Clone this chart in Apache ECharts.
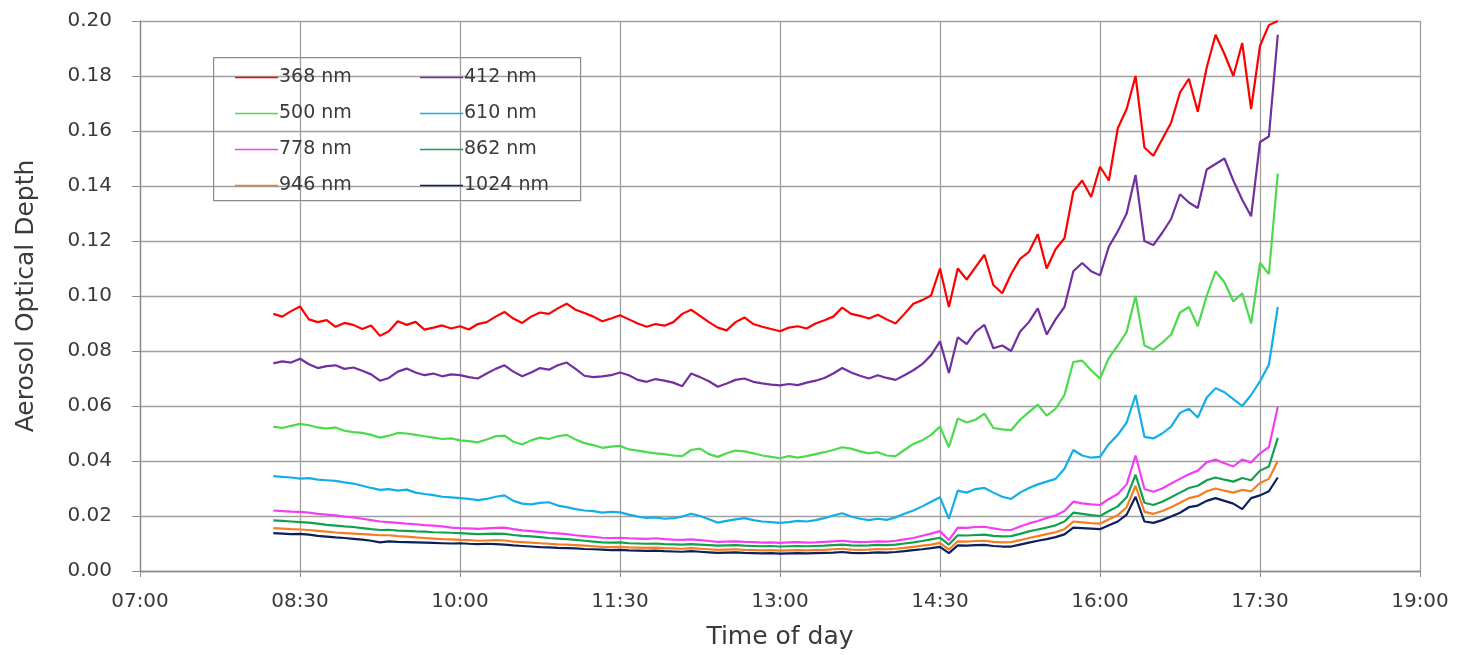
<!DOCTYPE html>
<html>
<head>
<meta charset="utf-8">
<script src="https://cdn.jsdelivr.net/npm/echarts@6/dist/echarts.min.js"></script>
<style>
html,body{margin:0;padding:0;background:#fff;}
#chart{width:1474px;height:655px;}
</style>
</head>
<body>
<div id="chart"></div>
<script>
// Sample times: minutes after 07:00, every 5 minutes from 08:15 to 17:40
var startMinute = 75, stepMinute = 5;
var xTickLabels = ['07:00','08:30','10:00','11:30','13:00','14:30','16:00','17:30','19:00'];
var seriesNames = ['368 nm','412 nm','500 nm','610 nm','778 nm','862 nm','946 nm','1024 nm'];

var aod368 = [0.0935,0.0925,0.0945,0.0962,0.0915,0.0905,0.0912,0.0888,0.0902,0.0895,
0.0880,0.0893,0.0855,0.0872,0.0908,0.0895,0.0906,0.0878,0.0885,0.0893,
0.0882,0.0890,0.0878,0.0898,0.0905,0.0925,0.0942,0.0918,0.0902,0.0925,
0.0940,0.0935,0.0955,0.0972,0.0950,0.0938,0.0925,0.0908,0.0918,0.0930,
0.0915,0.0900,0.0888,0.0898,0.0892,0.0905,0.0935,0.0950,0.0928,0.0905,
0.0885,0.0875,0.0905,0.0922,0.0898,0.0888,0.0880,0.0872,0.0885,0.0890,
0.0882,0.0900,0.0912,0.0925,0.0958,0.0935,0.0928,0.0918,0.0932,0.0915,
0.0900,0.0935,0.0972,0.0985,0.1002,0.1100,0.0960,0.1100,0.1060,0.1105,
0.1150,0.1040,0.1010,0.1080,0.1135,0.1160,0.1225,0.1100,0.1170,0.1210,
0.1380,0.1420,0.1360,0.1470,0.1420,0.1610,0.1680,0.1800,0.1540,0.1510,
0.1570,0.1630,0.1740,0.1790,0.1670,0.1830,0.1950,0.1880,0.1800,0.1920,
0.1680,0.1910,0.1985,0.2000];

var aod412 = [0.0755,0.0762,0.0758,0.0772,0.0752,0.0738,0.0745,0.0748,0.0735,0.0740,
0.0728,0.0715,0.0692,0.0702,0.0725,0.0736,0.0722,0.0712,0.0718,0.0708,
0.0715,0.0712,0.0705,0.0700,0.0718,0.0735,0.0748,0.0725,0.0708,0.0722,
0.0738,0.0732,0.0748,0.0758,0.0735,0.0710,0.0705,0.0708,0.0712,0.0722,
0.0712,0.0695,0.0688,0.0698,0.0692,0.0685,0.0672,0.0718,0.0705,0.0690,
0.0670,0.0682,0.0695,0.0700,0.0688,0.0682,0.0678,0.0675,0.0680,0.0676,
0.0685,0.0692,0.0702,0.0718,0.0738,0.0722,0.0710,0.0700,0.0712,0.0702,
0.0695,0.0712,0.0730,0.0752,0.0785,0.0835,0.0720,0.0850,0.0825,0.0870,
0.0895,0.0810,0.0820,0.0800,0.0870,0.0905,0.0955,0.0860,0.0915,0.0960,
0.1090,0.1120,0.1090,0.1075,0.1180,0.1235,0.1300,0.1440,0.1200,0.1185,
0.1230,0.1280,0.1370,0.1340,0.1320,0.1460,0.1480,0.1500,0.1420,0.1350,
0.1290,0.1560,0.1580,0.1950];

var aod500 = [0.0525,0.0520,0.0528,0.0535,0.0530,0.0522,0.0518,0.0522,0.0510,0.0505,
0.0502,0.0495,0.0485,0.0492,0.0502,0.0500,0.0495,0.0490,0.0485,0.0480,
0.0482,0.0475,0.0472,0.0468,0.0478,0.0490,0.0492,0.0470,0.0460,0.0475,
0.0485,0.0480,0.0490,0.0495,0.0478,0.0465,0.0458,0.0448,0.0452,0.0455,
0.0442,0.0438,0.0432,0.0428,0.0425,0.0420,0.0418,0.0440,0.0445,0.0425,
0.0415,0.0428,0.0438,0.0435,0.0428,0.0420,0.0415,0.0410,0.0418,0.0412,
0.0418,0.0425,0.0432,0.0440,0.0450,0.0445,0.0435,0.0428,0.0432,0.0420,
0.0418,0.0440,0.0462,0.0475,0.0495,0.0525,0.0450,0.0555,0.0540,0.0550,
0.0572,0.0520,0.0515,0.0512,0.0550,0.0578,0.0605,0.0565,0.0590,0.0640,
0.0760,0.0765,0.0730,0.0700,0.0775,0.0820,0.0870,0.1000,0.0820,0.0805,
0.0830,0.0860,0.0940,0.0960,0.0890,0.1000,0.1090,0.1050,0.0980,0.1010,
0.0900,0.1120,0.1080,0.1445];

var aod610 = [0.0345,0.0342,0.0340,0.0336,0.0338,0.0332,0.0330,0.0328,0.0322,0.0318,
0.0310,0.0302,0.0295,0.0298,0.0292,0.0296,0.0285,0.0280,0.0276,0.0270,
0.0268,0.0265,0.0262,0.0258,0.0262,0.0270,0.0275,0.0255,0.0245,0.0242,
0.0248,0.0250,0.0238,0.0232,0.0225,0.0220,0.0218,0.0212,0.0215,0.0213,
0.0205,0.0198,0.0193,0.0195,0.0190,0.0192,0.0198,0.0208,0.0200,0.0188,
0.0176,0.0182,0.0188,0.0192,0.0185,0.0180,0.0178,0.0175,0.0178,0.0182,
0.0180,0.0185,0.0192,0.0202,0.0210,0.0198,0.0190,0.0185,0.0190,0.0186,
0.0195,0.0208,0.0220,0.0235,0.0252,0.0268,0.0190,0.0292,0.0285,0.0298,
0.0302,0.0285,0.0270,0.0262,0.0285,0.0302,0.0315,0.0325,0.0335,0.0372,
0.0440,0.0420,0.0412,0.0415,0.0462,0.0495,0.0540,0.0640,0.0488,0.0482,
0.0500,0.0525,0.0575,0.0590,0.0558,0.0630,0.0665,0.0650,0.0625,0.0600,
0.0640,0.0690,0.0750,0.0960];

var aod778 = [0.0220,0.0218,0.0216,0.0215,0.0212,0.0208,0.0205,0.0202,0.0198,0.0195,
0.0190,0.0185,0.0180,0.0178,0.0175,0.0172,0.0170,0.0167,0.0165,0.0162,
0.0158,0.0156,0.0155,0.0153,0.0155,0.0157,0.0158,0.0152,0.0148,0.0145,
0.0142,0.0139,0.0137,0.0134,0.0130,0.0127,0.0124,0.0121,0.0120,0.0121,
0.0119,0.0118,0.0117,0.0119,0.0116,0.0114,0.0113,0.0115,0.0112,0.0109,
0.0106,0.0107,0.0108,0.0106,0.0105,0.0103,0.0104,0.0102,0.0104,0.0105,
0.0103,0.0104,0.0106,0.0108,0.0110,0.0107,0.0105,0.0106,0.0108,0.0107,
0.0110,0.0115,0.0120,0.0128,0.0136,0.0145,0.0112,0.0158,0.0157,0.0160,
0.0161,0.0155,0.0150,0.0149,0.0162,0.0173,0.0182,0.0193,0.0202,0.0218,
0.0252,0.0246,0.0242,0.0240,0.0262,0.0280,0.0315,0.0420,0.0298,0.0288,
0.0300,0.0318,0.0335,0.0352,0.0365,0.0395,0.0405,0.0392,0.0380,0.0405,
0.0395,0.0428,0.0450,0.0596];

var aod862 = [0.0184,0.0182,0.0180,0.0178,0.0176,0.0172,0.0168,0.0165,0.0162,0.0160,
0.0156,0.0152,0.0149,0.0150,0.0147,0.0146,0.0144,0.0143,0.0141,0.0140,
0.0139,0.0138,0.0136,0.0134,0.0135,0.0136,0.0135,0.0131,0.0128,0.0126,
0.0123,0.0120,0.0118,0.0116,0.0113,0.0110,0.0107,0.0104,0.0103,0.0104,
0.0101,0.0100,0.0099,0.0100,0.0098,0.0097,0.0096,0.0098,0.0096,0.0094,
0.0092,0.0093,0.0094,0.0092,0.0091,0.0090,0.0091,0.0089,0.0090,0.0091,
0.0090,0.0091,0.0092,0.0094,0.0096,0.0093,0.0092,0.0093,0.0095,0.0094,
0.0096,0.0100,0.0104,0.0109,0.0115,0.0121,0.0096,0.0130,0.0129,0.0131,
0.0132,0.0128,0.0126,0.0127,0.0135,0.0144,0.0151,0.0158,0.0166,0.0180,
0.0212,0.0208,0.0203,0.0200,0.0218,0.0235,0.0268,0.0350,0.0248,0.0240,
0.0252,0.0268,0.0285,0.0302,0.0310,0.0330,0.0340,0.0332,0.0325,0.0338,
0.0330,0.0365,0.0380,0.0484];

var aod946 = [0.0156,0.0154,0.0152,0.0151,0.0149,0.0146,0.0143,0.0140,0.0138,0.0136,
0.0134,0.0132,0.0130,0.0130,0.0127,0.0125,0.0122,0.0120,0.0118,0.0116,
0.0115,0.0113,0.0112,0.0110,0.0111,0.0112,0.0111,0.0107,0.0105,0.0103,
0.0101,0.0099,0.0097,0.0096,0.0094,0.0092,0.0090,0.0088,0.0087,0.0088,
0.0086,0.0085,0.0084,0.0085,0.0083,0.0082,0.0081,0.0083,0.0081,0.0079,
0.0077,0.0078,0.0079,0.0077,0.0076,0.0075,0.0076,0.0074,0.0075,0.0076,
0.0075,0.0076,0.0077,0.0079,0.0081,0.0078,0.0077,0.0078,0.0080,0.0079,
0.0081,0.0084,0.0088,0.0092,0.0096,0.0102,0.0078,0.0108,0.0107,0.0109,
0.0110,0.0106,0.0104,0.0105,0.0112,0.0120,0.0127,0.0134,0.0141,0.0152,
0.0180,0.0177,0.0174,0.0172,0.0188,0.0203,0.0232,0.0310,0.0215,0.0208,
0.0218,0.0232,0.0248,0.0265,0.0272,0.0290,0.0300,0.0292,0.0285,0.0295,
0.0290,0.0320,0.0335,0.0400];

var aod1024 = [0.0138,0.0136,0.0134,0.0135,0.0132,0.0128,0.0125,0.0122,0.0120,0.0117,
0.0114,0.0110,0.0104,0.0108,0.0106,0.0105,0.0104,0.0103,0.0102,0.0101,
0.0100,0.0101,0.0099,0.0098,0.0099,0.0098,0.0096,0.0093,0.0091,0.0089,
0.0087,0.0086,0.0084,0.0083,0.0082,0.0080,0.0079,0.0078,0.0076,0.0077,
0.0075,0.0074,0.0073,0.0074,0.0072,0.0071,0.0070,0.0072,0.0070,0.0068,
0.0066,0.0067,0.0068,0.0066,0.0065,0.0064,0.0065,0.0063,0.0064,0.0065,
0.0064,0.0065,0.0066,0.0067,0.0069,0.0066,0.0065,0.0066,0.0068,0.0067,
0.0069,0.0072,0.0076,0.0079,0.0083,0.0088,0.0065,0.0093,0.0092,0.0094,
0.0095,0.0091,0.0089,0.0089,0.0096,0.0103,0.0110,0.0116,0.0123,0.0133,
0.0158,0.0156,0.0154,0.0152,0.0166,0.0180,0.0205,0.0270,0.0180,0.0175,
0.0185,0.0198,0.0212,0.0232,0.0238,0.0255,0.0265,0.0255,0.0245,0.0225,
0.0265,0.0275,0.0290,0.0340];

var seriesValues = [aod368, aod412, aod500, aod610, aod778, aod862, aod946, aod1024];
var seriesColors = ['#ff0000','#7030a0','#4cd94c','#12aee8','#f43ef4','#0fa050','#f47d20','#0a1f5c'];

var FONT = 'DejaVu Sans';
var TXT = '#3a3a3a';

function pairs(vals){
  var out = [];
  for (var i = 0; i < vals.length; i++) out.push([startMinute + i*stepMinute, vals[i]]);
  return out;
}

var series = seriesNames.map(function(n, k){
  return {
    name: n, type: 'line', data: pairs(seriesValues[k]),
    showSymbol: false, symbol: 'none', animation: false,
    lineStyle: {width: 2.2, color: seriesColors[k]},
    itemStyle: {color: seriesColors[k]}
  };
});

function legendCol(names, left){
  return {
    data: names, orient: 'vertical', left: left, top: 68, padding: 0,
    icon: 'rect', itemWidth: 43, itemHeight: 1.5, itemGap: 17,
    textStyle: {fontFamily: FONT, fontSize: 19, color: TXT, padding: [0,0,0,-4]},
    selectedMode: false
  };
}

var chart = echarts.init(document.getElementById('chart'), null, {renderer: 'canvas'});
chart.setOption({
  backgroundColor: '#ffffff',
  animation: false,
  grid: {left: 140, right: 54, top: 21, bottom: 84, containLabel: false},
  legend: [
    legendCol(['368 nm','500 nm','778 nm','946 nm'], 235),
    legendCol(['412 nm','610 nm','862 nm','1024 nm'], 420)
  ],
  graphic: [{
    type: 'rect', left: 213, top: 57, z: 100, silent: true,
    shape: {width: 367, height: 143},
    style: {fill: 'rgba(255,255,255,0)', stroke: '#8c8c8c', lineWidth: 1.2}
  }, {
    type: 'rect', left: 213, top: 57, z: -1, silent: true,
    shape: {width: 367, height: 143},
    style: {fill: '#ffffff'}
  }],
  xAxis: {
    type: 'value', min: 0, max: 720, interval: 90,
    name: 'Time of day', nameLocation: 'middle', nameGap: 54,
    nameTextStyle: {fontFamily: FONT, fontSize: 25, color: TXT},
    axisLine: {show: true, lineStyle: {color: '#8c8c8c', width: 1.3}},
    axisTick: {show: true, length: 6, lineStyle: {color: '#8c8c8c'}},
    axisLabel: {fontFamily: FONT, fontSize: 20, color: TXT, margin: 21,
      formatter: function(v){ return xTickLabels[Math.round(v/90)]; }},
    splitLine: {show: true, lineStyle: {color: '#a0a0a0', width: 1.3}}
  },
  yAxis: {
    type: 'value', min: 0, max: 0.2, interval: 0.02,
    name: 'Aerosol Optical Depth', nameLocation: 'middle', nameGap: 101, nameRotate: 90,
    nameTextStyle: {fontFamily: FONT, fontSize: 25, color: TXT},
    axisLine: {show: true, lineStyle: {color: '#8c8c8c', width: 1.3}},
    axisTick: {show: true, length: 8, lineStyle: {color: '#8c8c8c'}},
    axisLabel: {fontFamily: FONT, fontSize: 20, color: TXT, margin: 28,
      formatter: function(v){ return v.toFixed(2); }},
    splitLine: {show: true, lineStyle: {color: '#a0a0a0', width: 1.3}}
  },
  series: series
});
</script>
</body>
</html>
